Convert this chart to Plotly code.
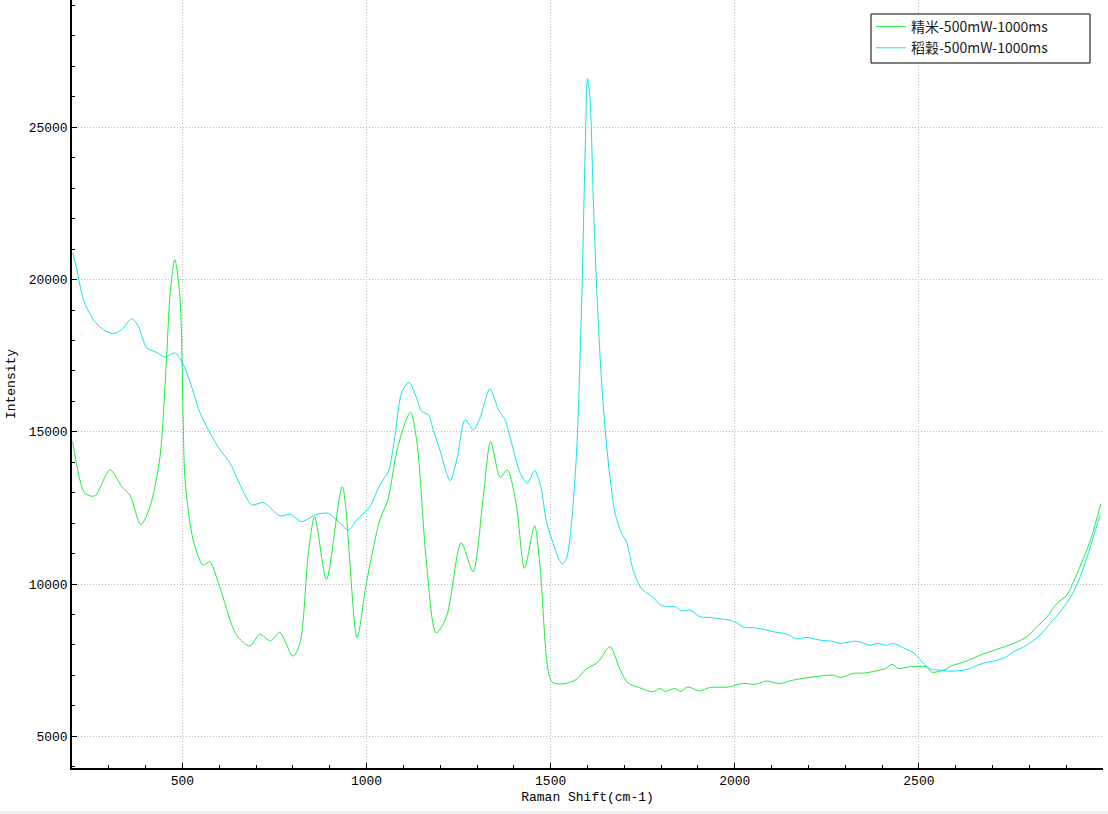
import plotly.graph_objects as go

# ---------------- data ----------------
series_names = ["精米-500mW-1000ms", "稻穀-500mW-1000ms"]

shift_rice = [202, 235, 262, 303, 335, 357, 387, 412, 439, 457, 466, 479, 493, 502, 507,
              529, 556, 574, 601, 647, 683, 710, 739, 764, 800, 819, 842, 859, 891, 934,
              974, 999, 1036, 1058, 1085, 1119, 1137, 1162, 1189, 1217, 1257, 1289, 1316,
              1337, 1363, 1382, 1406, 1429, 1456, 1471, 1488, 1497, 1506, 1533, 1569, 1596,
              1628, 1661, 1687, 1709, 1741, 1777, 1795, 1813, 1836, 1854, 1872, 1904, 1931,
              1985, 2021, 2058, 2085, 2121, 2157, 2193, 2229, 2266, 2288, 2320, 2356, 2392,
              2410, 2427, 2444, 2473, 2501, 2521, 2535, 2566, 2589, 2630, 2666, 2711, 2757,
              2793, 2820, 2848, 2875, 2902, 2924, 2947, 2969, 2994]
int_rice = [14682, 12985, 12896, 13751, 13202, 12929, 11952, 12544, 14189, 17479, 19453,
            20660, 19453, 15373, 13422, 11448, 10626, 10734, 9912, 8323, 7971, 8356, 8135,
            8412, 7632, 8050, 11011, 12215, 10155, 13190, 8240, 10000, 12106, 12764, 14518,
            15637, 14629, 10790, 8399, 8925, 11359, 10405, 12764, 14682, 13505, 13751, 12656,
            10517, 11920, 10570, 7632, 6951, 6763, 6720, 6865, 7204, 7435, 7945, 7231, 6763,
            6600, 6460, 6569, 6480, 6569, 6480, 6622, 6490, 6602, 6622, 6734, 6711, 6819,
            6734, 6842, 6918, 6974, 7007, 6931, 7063, 7083, 7171, 7227, 7369, 7227, 7280,
            7303, 7280, 7106, 7171, 7313, 7477, 7665, 7852, 8050, 8267, 8596, 8925, 9366,
            9639, 10188, 10846, 11557, 12633]

shift_paddy = [202, 213, 231, 258, 285, 312, 335, 362, 380, 403, 430, 453, 480, 498, 520,
               548, 575, 602, 629, 661, 688, 720, 765, 792, 824, 860, 896, 919, 951, 973,
               1009, 1036, 1059, 1077, 1095, 1115, 1134, 1150, 1168, 1181, 1199, 1227, 1245,
               1268, 1290, 1308, 1335, 1358, 1376, 1394, 1417, 1437, 1456, 1471, 1489, 1507,
               1521, 1532, 1544, 1557, 1571, 1584, 1593, 1600, 1607, 1616, 1625, 1639, 1657,
               1675, 1693, 1706, 1724, 1743, 1756, 1779, 1797, 1820, 1838, 1856, 1878, 1906,
               1933, 1960, 1987, 2005, 2023, 2060, 2087, 2105, 2141, 2168, 2195, 2232, 2268,
               2286, 2331, 2367, 2385, 2412, 2431, 2458, 2485, 2503, 2512, 2530, 2562, 2585,
               2630, 2666, 2711, 2734, 2757, 2793, 2829, 2856, 2884, 2915, 2938, 2960, 2992]
int_paddy = [20881, 20331, 19344, 18686, 18357, 18226, 18357, 18709, 18466, 17753, 17609,
             17458, 17591, 17314, 16656, 15617, 14958, 14409, 13972, 13149, 12600, 12676,
             12238, 12294, 12051, 12271, 12326, 12106, 11777, 12106, 12544, 13258, 13696,
             14847, 16275, 16623, 16163, 15669, 15561, 15067, 14409, 13399, 14080, 15396,
             15067, 15452, 16415, 15725, 15396, 14629, 13643, 13314, 13728, 13314, 12030,
             11330, 10856, 10655, 10886, 12067, 14482, 19183, 23884, 26596, 25896, 22537,
             19717, 16496, 13942, 12333, 11658, 11392, 10451, 9915, 9748, 9563, 9320, 9254,
             9254, 9123, 9145, 8925, 8905, 8859, 8816, 8727, 8596, 8553, 8487, 8432, 8356,
             8201, 8247, 8158, 8115, 8050, 8125, 7994, 8050, 7994, 8050, 7905, 7741, 7523,
             7392, 7214, 7171, 7139, 7194, 7369, 7500, 7589, 7773, 7994, 8323, 8708, 9089,
             9639, 10241, 11010, 12271]

x_tick_vals = [500, 1000, 1500, 2000, 2500]
x_tick_text = ["500", "1000", "1500", "2000", "2500"]
y_tick_vals = [5000, 10000, 15000, 20000, 25000]
y_tick_text = ["5000", "10000", "15000", "20000", "25000"]

x_range = [200, 3000]
y_range = [3960, 29180]

GREEN = "#1EEE3E"
CYAN = "#14E2EA"
MONO = "Liberation Mono, DejaVu Sans Mono, monospace"

fig = go.Figure()
fig.add_trace(go.Scatter(x=shift_rice, y=int_rice, mode="lines", name=series_names[0],
                         line=dict(color=GREEN, width=1, shape="spline", smoothing=0.8)))
fig.add_trace(go.Scatter(x=shift_paddy, y=int_paddy, mode="lines", name=series_names[1],
                         line=dict(color=CYAN, width=1, shape="spline", smoothing=0.8)))

axis_common = dict(
    showline=True, linecolor="black", linewidth=1.5, mirror=False,
    ticks="inside", ticklen=5, tickcolor="black", tickwidth=1,
    showgrid=True, gridcolor="#bdbdbd", griddash="1px,2px", gridwidth=1,
    zeroline=False, tickfont=dict(family=MONO, size=13, color="black"),
)

PLOT_W, PLOT_H, L = 1031, 768, 72

fig.update_layout(
    width=1108, height=814,
    margin=dict(l=L, r=5, t=0, b=46, autoexpand=False),
    paper_bgcolor="white", plot_bgcolor="white",
    showlegend=True,
    legend=dict(x=(871 - L) / PLOT_W, y=1 - 11 / PLOT_H, xanchor="left", yanchor="top",
                bgcolor="rgba(0,0,0,0)", borderwidth=0,
                font=dict(family="Noto Sans CJK SC, Noto Sans, sans-serif", size=14, color="#222"),
                itemwidth=30, tracegroupgap=0),
    xaxis=dict(range=x_range, tickmode="array", tickvals=x_tick_vals, ticktext=x_tick_text,
               minor=dict(tickmode="linear", tick0=0, dtick=100, ticks="inside", ticklen=3,
                          tickcolor="black", showgrid=False),
               title=dict(text="Raman Shift(cm-1)", font=dict(family=MONO, size=13, color="black"),
                          standoff=4),
               automargin=False, **axis_common),
    yaxis=dict(range=y_range, tickmode="array", tickvals=y_tick_vals, ticktext=y_tick_text,
               minor=dict(tickmode="linear", tick0=0, dtick=1000, ticks="inside", ticklen=3,
                          tickcolor="black", showgrid=False),
               title=dict(text="Intensity", font=dict(family=MONO, size=13, color="black"),
                          standoff=10),
               automargin=False, **axis_common),
    shapes=[
        dict(type="rect", xref="paper", yref="paper", x0=-0.1, x1=1.1,
             y0=-0.08, y1=-(811 - PLOT_H) / PLOT_H, fillcolor="#f0f0f0", line=dict(width=0),
             layer="below"),
        # legend frame
        dict(type="rect", xref="paper", yref="paper",
             x0=(871 - L) / PLOT_W, x1=(1090 - L) / PLOT_W,
             y0=1 - 63 / PLOT_H, y1=1 - 14 / PLOT_H,
             fillcolor="white", line=dict(color="black", width=1), layer="above"),
    ],
)

fig.write_html("out.html", config={"displayModeBar": False},
               post_script="document.body.style.margin='0';")
